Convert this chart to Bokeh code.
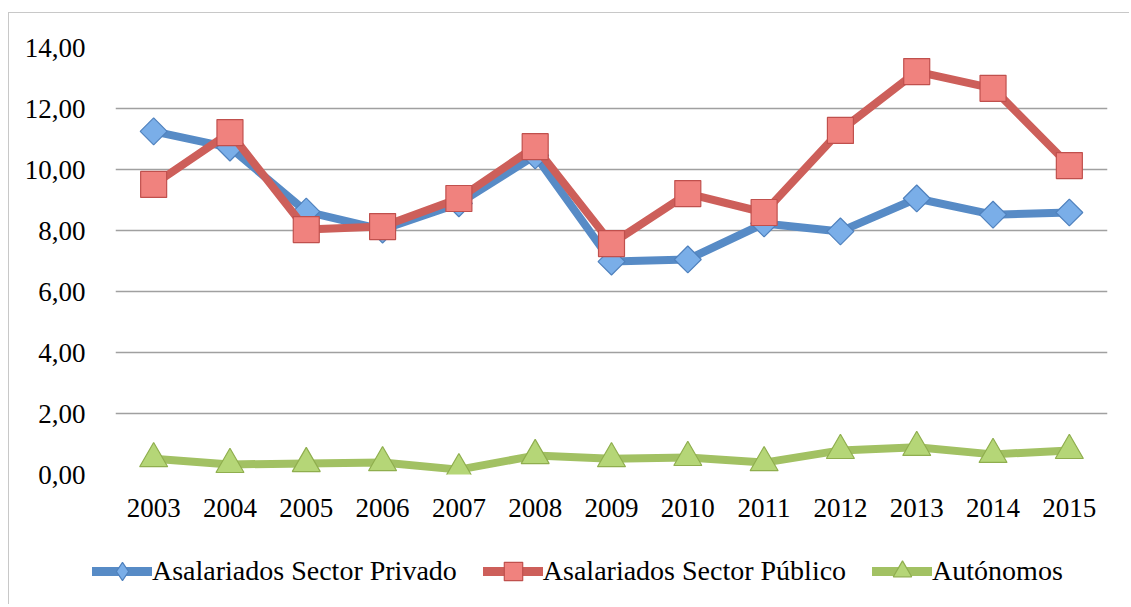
import math
from bokeh.plotting import figure
from bokeh.layouts import column
from bokeh.models import Legend, LegendItem, FixedTicker, ColumnDataSource, Range1d, FactorRange
from bokeh.embed import file_html
from bokeh.resources import INLINE

years = ["2003", "2004", "2005", "2006", "2007", "2008", "2009",
         "2010", "2011", "2012", "2013", "2014", "2015"]
privado = [11.25, 10.72, 8.62, 8.03, 8.89, 10.46, 6.98, 7.05, 8.23, 7.97, 9.05, 8.52, 8.59]
publico = [9.51, 11.21, 8.03, 8.13, 9.05, 10.75, 7.57, 9.21, 8.59, 11.28, 13.21, 12.66, 10.13]
autonomos = [0.52, 0.33, 0.36, 0.39, 0.16, 0.62, 0.52, 0.56, 0.39, 0.79, 0.89, 0.66, 0.79]
y_ticks = [0, 2, 4, 6, 8, 10, 12, 14]
y_tick_labels = ["0,00", "2,00", "4,00", "6,00", "8,00", "10,00", "12,00", "14,00"]
series_names = ["Asalariados Sector Privado", "Asalariados Sector Público", "Autónomos"]

FONT = "Liberation Serif"

styles = [
    dict(line_color="#578BC6", marker="square", legend_marker="diamond", angle=math.pi / 4,
         size=19, fill_color="#7AAEE8", edge="#4F81BD"),
    dict(line_color="#CD5F5A", marker="square", legend_marker="square", angle=0.0,
         size=26, fill_color="#F0827E", edge="#C0504D"),
    dict(line_color="#A2C163", marker="triangle", legend_marker="triangle", angle=0.0,
         size=28, fill_color="#B5D677", edge="#8FAE4E"),
]

p = figure(width=1120, height=521, x_range=years, y_range=(0, 14),
           output_backend="svg", toolbar_location=None,
           min_border_left=106, min_border_right=22, min_border_top=34, min_border_bottom=60)
p.outline_line_color = None
p.background_fill_color = "white"
p.border_fill_color = "white"
p.x_range.range_padding = 0

p.xgrid.grid_line_color = None
p.ygrid.grid_line_color = "#A0A0A0"
p.ygrid.grid_line_width = 1.5
p.yaxis.ticker = FixedTicker(ticks=y_ticks)
p.yaxis.major_label_overrides = {t: l for t, l in zip(y_ticks, y_tick_labels)}

for ax in (p.xaxis[0], p.yaxis[0]):
    ax.axis_line_color = None
    ax.major_tick_line_color = None
    ax.minor_tick_line_color = None
    ax.major_label_text_font = FONT
    ax.major_label_text_font_size = "27px"
    ax.major_label_text_color = "black"
p.yaxis.major_label_standoff = 24
p.xaxis.major_label_standoff = 18

src = ColumnDataSource(dict(x=years, a=privado, b=publico, c=autonomos))

for col, st in zip(["a", "b", "c"], styles):
    p.line("x", col, source=src, line_color=st["line_color"], line_width=8)
    p.scatter("x", col, source=src, marker=st["marker"], angle=st["angle"], size=st["size"],
              fill_color=st["fill_color"], line_color=st["edge"], line_width=1.2)

# legend strip below the chart (its own renderers lie outside its visible range)
lf = figure(width=1120, height=70, output_backend="svg", toolbar_location=None,
            x_range=FactorRange(*years), y_range=Range1d(-200, -199),
            x_axis_location=None, y_axis_location=None,
            min_border_left=0, min_border_right=0, min_border_top=0, min_border_bottom=0)
lf.frame_align = False
lf.outline_line_color = None
lf.grid.visible = False
lf.border_fill_color = "white"

items = []
for col, name, st in zip(["a", "b", "c"], series_names, styles):
    lr = lf.line("x", col, source=src, line_color=st["line_color"], line_width=9,
                 line_cap="round")
    mr = lf.scatter("x", col, source=src, marker=st["legend_marker"],
                    size=st["size"], fill_color=st["fill_color"], line_color=st["edge"],
                    line_width=1.2)
    items.append(LegendItem(label=name, renderers=[lr, mr]))

legend = Legend(items=items, orientation="horizontal", location=(83, 10))
legend.label_text_font = FONT
legend.label_text_font_size = "28px"
legend.label_text_color = "black"
legend.glyph_width = 60
legend.glyph_height = 46
legend.label_standoff = 0
legend.spacing = 26
legend.padding = 0
legend.margin = 0
legend.border_line_color = None
legend.background_fill_alpha = 0
lf.add_layout(legend, "center")

layout = column(p, lf, spacing=0)
layout.margin = (12, 0, 0, 8)
layout.styles = {"border-top": "1px solid #C8C8C8", "border-left": "1px solid #C8C8C8"}

open("out.html", "w").write(file_html(layout, INLINE))
